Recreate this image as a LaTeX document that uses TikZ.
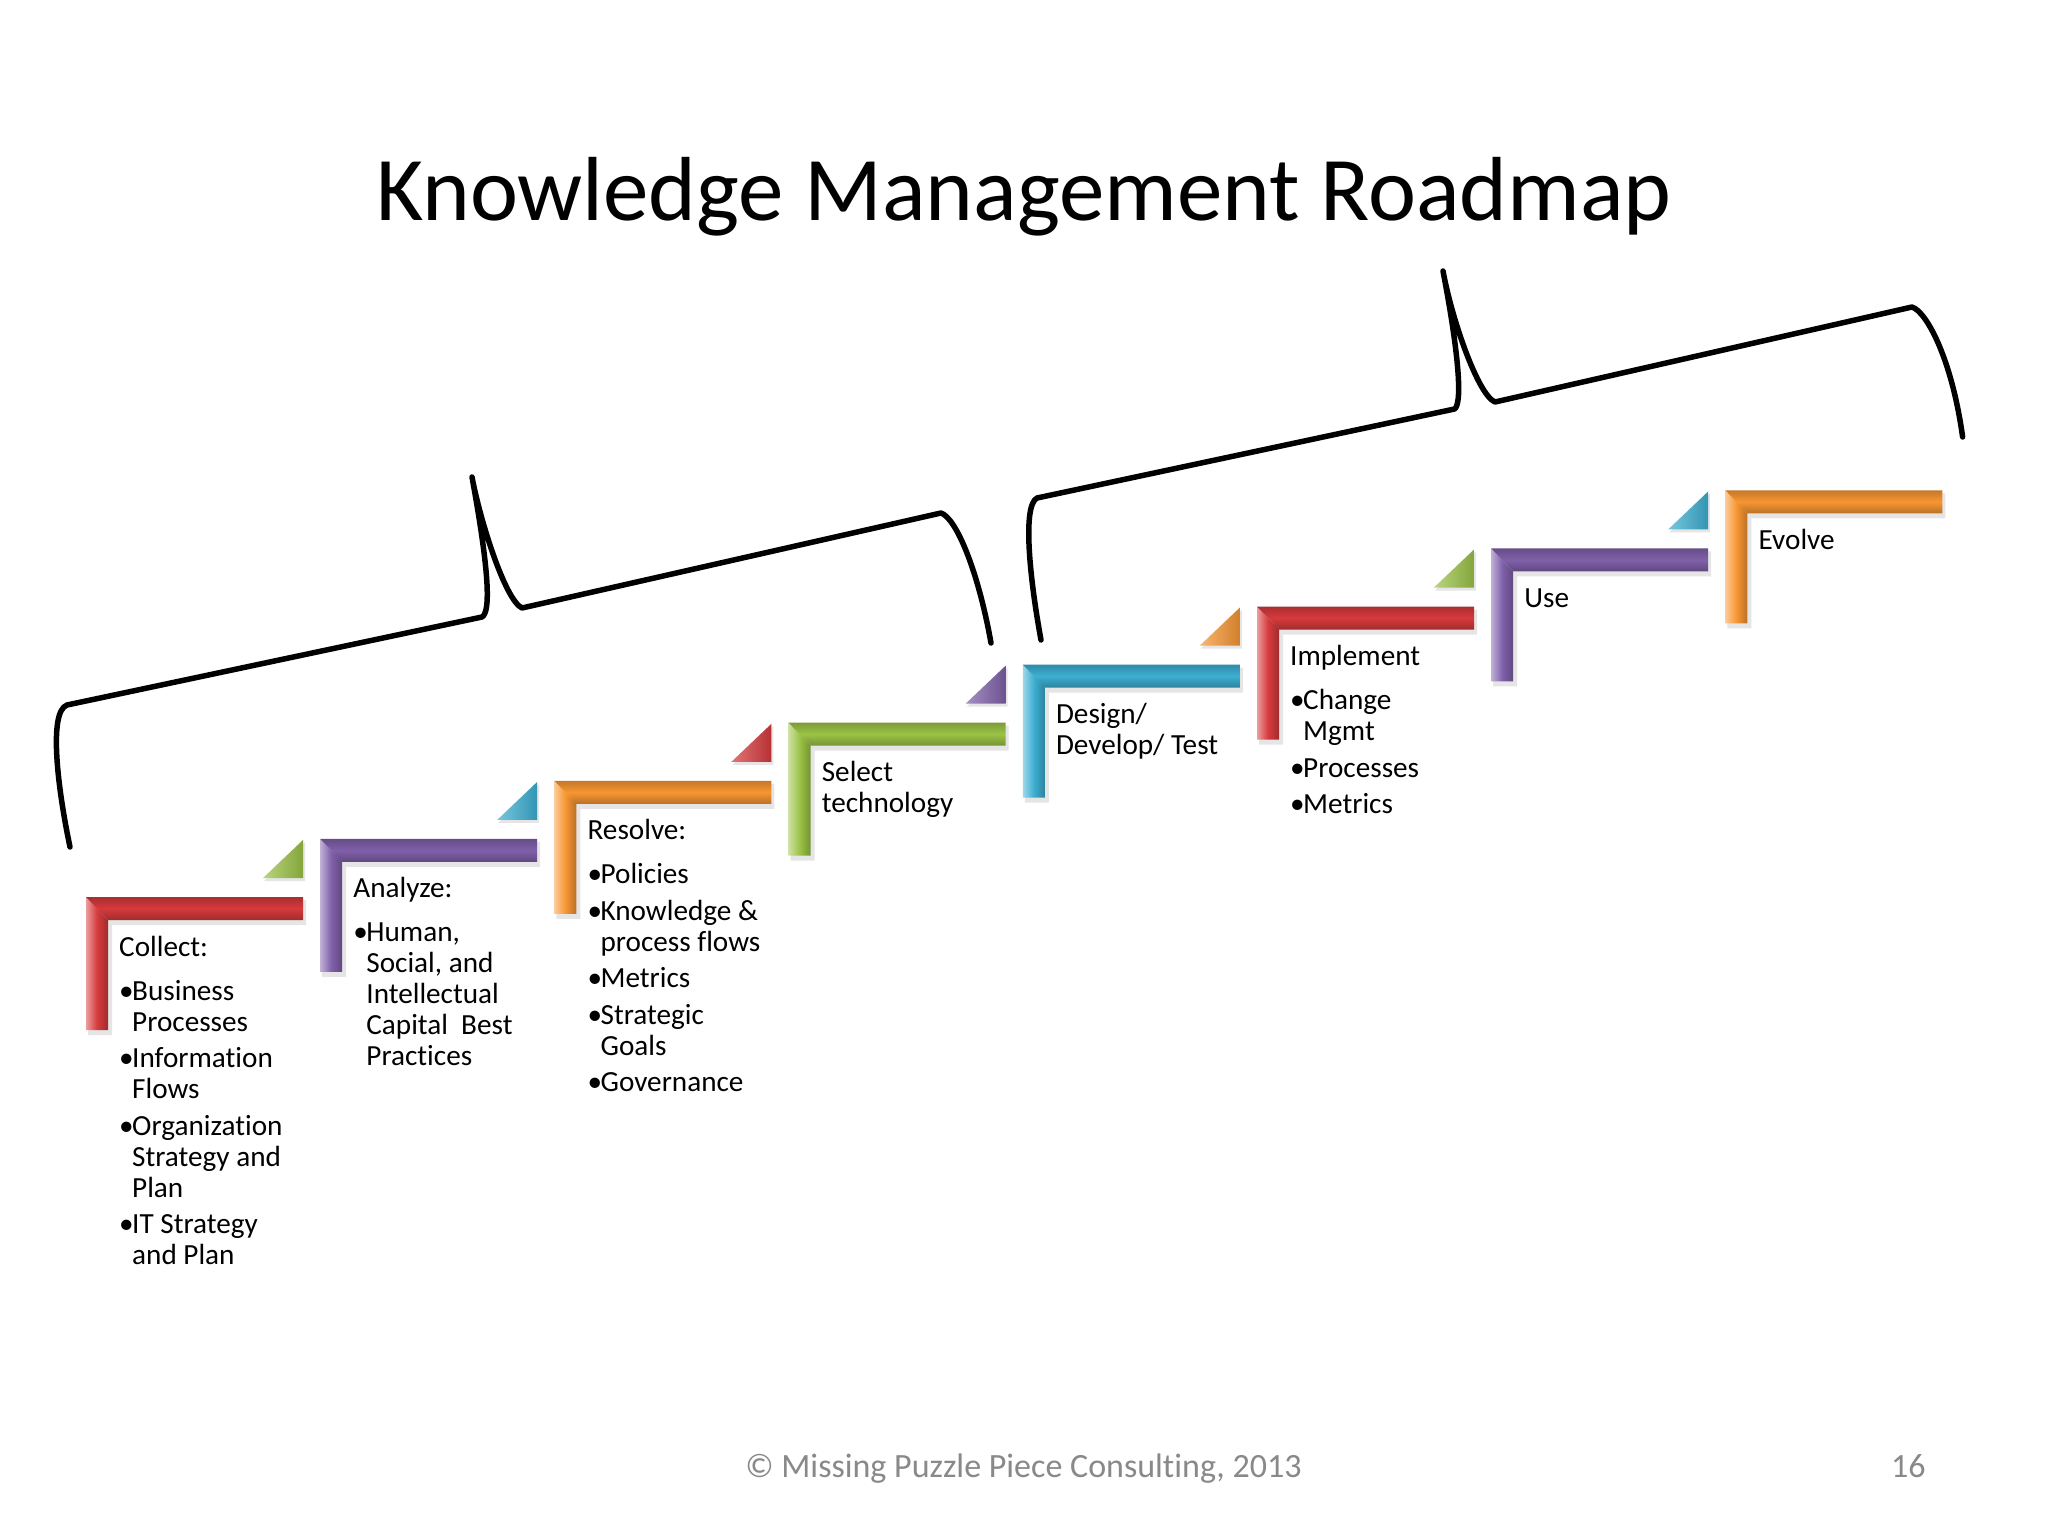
\documentclass[tikz,border=0pt]{standalone}
\usepackage{fontspec}
\setmainfont{Carlito}[Ligatures={NoCommon}]
\definecolor{kred}{RGB}{214,58,60}
\definecolor{kpur}{RGB}{128,96,170}
\definecolor{kora}{RGB}{247,150,50}
\definecolor{kgrn}{RGB}{155,195,70}
\definecolor{kcya}{RGB}{60,175,210}
\definecolor{kgray}{RGB}{137,137,137}
\newcommand\kmbul{\makebox[13pt][l]{•}}
\newcommand\kmind{\hspace*{13pt}}
\newcommand\kmtab[1]{\begin{tabular}[t]{@{}l@{}}#1\end{tabular}}
\begin{document}
\begin{tikzpicture}[x=1pt,y=-1pt,
  body/.style={inner sep=0pt, anchor=base west, font=\fontsize{29.2}{31}\selectfont},
  brace/.style={line width=5.5pt, line cap=round, line join=round},
  foot/.style={inner sep=0pt, font=\fontsize{34}{38}\selectfont, text=kgray},
]
\useasboundingbox (0,0) rectangle (2048,1536);
\fill[white] (0,0) rectangle (2048,1536);

\node[inner sep=0pt, anchor=base, font=\fontsize{91}{100}\selectfont] (title) at (1024,220) {Knowledge Management Roadmap};

% L-shaped steps
\foreach \i/\c in {0/kred,1/kpur,2/kora,3/kgrn,4/kcya,5/kred,6/kpur,7/kora}{
  \pgfmathsetmacro\L{86+234.2*\i}
  \pgfmathsetmacro\T{897-58.1*\i}
  \pgfmathsetmacro\R{\L+217}
  \pgfmathsetmacro\B{\T+133}
  \fill[black,opacity=0.10] (\L+2,\T+3) -- (\R+3,\T+3) -- (\R+3,\T+28) -- (\L+26,\T+28) -- (\L+26,\B+5) -- (\L+2,\B+5) -- cycle;
  \shade[left color=\c!50!white, right color=\c!75!black, middle color=\c] (\L,\T) -- (\L+22,\T+23) -- (\L+22,\B) -- (\L,\B) -- cycle;
  \shade[top color=\c!80!black, bottom color=\c!75!black, middle color=\c] (\L,\T) -- (\R,\T) -- (\R,\T+23) -- (\L+22,\T+23) -- cycle;
}
% small triangles
\foreach \i/\c in {0/kgrn,1/kcya,2/kred,3/kpur,4/kora,5/kgrn,6/kcya}{
  \pgfmathsetmacro\R{303+234.2*\i}
  \pgfmathsetmacro\T{897-58.1*\i}
  \fill[black,opacity=0.10] (\R+2,\T-55) -- (\R+2,\T-16) -- (\R-39,\T-16) -- cycle;
  \shade[left color=\c!70!white, right color=\c!85!black] (\R,\T-57) -- (\R,\T-19) -- (\R-40,\T-19) -- cycle;
}

% texts
\node[body] (s1) at (119,956) {\kmtab{Collect:\\[13pt]
  \kmbul Business\\ \kmind Processes\\[5.5pt]
  \kmbul Information\\ \kmind Flows\\[5.5pt]
  \kmbul Organization\\ \kmind Strategy and\\ \kmind Plan\\[5.5pt]
  \kmbul IT Strategy\\ \kmind and Plan}};
\node[body] (s2) at (353.2,897.9) {\kmtab{Analyze:\\[13pt]
  \kmbul Human,\\ \kmind Social, and\\ \kmind Intellectual\\ \kmind Capital\ \ Best\\ \kmind Practices}};
\node[body] (s3) at (587.4,839.8) {\kmtab{Resolve:\\[13pt]
  \kmbul Policies\\[5.5pt]
  \kmbul Knowledge \&\\ \kmind process flows\\[5.5pt]
  \kmbul Metrics\\[5.5pt]
  \kmbul Strategic\\ \kmind Goals\\[5.5pt]
  \kmbul Governance}};
\node[body] (s4) at (821.6,781.7) {\kmtab{Select\\ technology}};
\node[body] (s5) at (1055.8,723.6) {\kmtab{Design/\\ Develop/ Test}};
\node[body] (s6) at (1290,665.5) {\kmtab{Implement\\[13pt]
  \kmbul Change\\ \kmind Mgmt\\[5.5pt]
  \kmbul Processes\\[5.5pt]
  \kmbul Metrics}};
\node[body] (s7) at (1524.2,607.4) {Use};
\node[body] (s8) at (1758.4,549.3) {Evolve};

% braces
\draw[brace] (70,847) .. controls (58,790) and (48,712) .. (67,705) -- (482,617)
  .. controls (491,612) and (489,570) .. (472,477)
  .. controls (480,520) and (505,600) .. (522,608) -- (941,513)
  .. controls (956,518) and (978,570) .. (991,643);
\draw[brace] (1041,640) .. controls (1030,580) and (1022,506) .. (1037,498) -- (1454.5,409)
  .. controls (1462,404) and (1460,360) .. (1443,271)
  .. controls (1452,320) and (1478,395) .. (1495,402) -- (1912,307)
  .. controls (1927,312) and (1952,360) .. (1962.6,437);

% footer
\node[foot, anchor=base] (copy) at (1023.5,1477) {© Missing Puzzle Piece Consulting, 2013};
\node[foot, anchor=base west] (page) at (1891,1477) {16};
\end{tikzpicture}
\end{document}
